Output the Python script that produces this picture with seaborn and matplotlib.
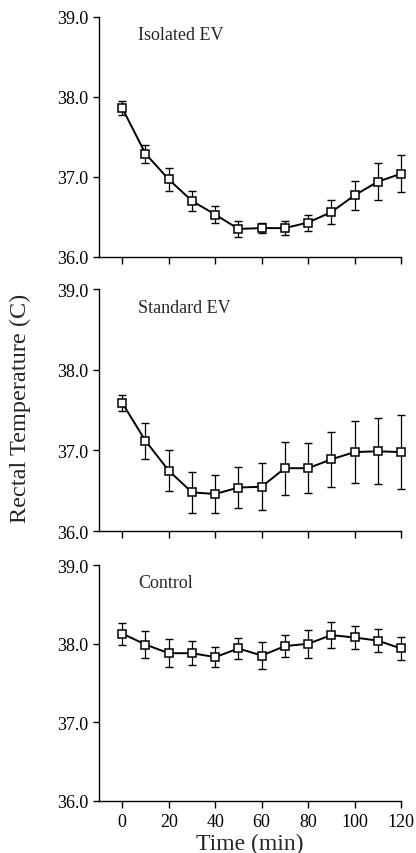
import matplotlib
matplotlib.use("Agg")
import matplotlib.pyplot as plt
import seaborn as sns
import pandas as pd
import numpy as np

time_min = [0, 10, 20, 30, 40, 50, 60, 70, 80, 90, 100, 110, 120]

isolated_mean = [37.86, 37.29, 36.97, 36.70, 36.53, 36.35, 36.36, 36.36, 36.43, 36.56, 36.77, 36.94, 37.04]
isolated_err = [0.09, 0.11, 0.14, 0.13, 0.11, 0.10, 0.06, 0.09, 0.10, 0.15, 0.18, 0.23, 0.23]

standard_mean = [37.59, 37.12, 36.75, 36.48, 36.46, 36.54, 36.55, 36.78, 36.78, 36.89, 36.98, 36.99, 36.98]
standard_err = [0.10, 0.22, 0.25, 0.25, 0.24, 0.25, 0.29, 0.33, 0.31, 0.34, 0.38, 0.41, 0.46]

control_mean = [38.13, 37.99, 37.88, 37.88, 37.83, 37.94, 37.85, 37.97, 38.00, 38.11, 38.08, 38.04, 37.94]
control_err = [0.14, 0.17, 0.18, 0.15, 0.13, 0.13, 0.17, 0.14, 0.18, 0.17, 0.15, 0.15, 0.15]

panel_labels = ["Isolated EV", "Standard EV", "Control"]
y_ticks = [36.0, 37.0, 38.0, 39.0]
x_ticks = [0, 20, 40, 60, 80, 100, 120]

sns.set_theme(style="ticks")
plt.rcParams['font.family'] = ['Liberation Serif', 'DejaVu Serif']

fig = plt.figure(figsize=(4.16, 8.54), dpi=100)
left, width = 0.238, 0.726
rects = [(0.698, 0.979), (0.377, 0.660), (0.061, 0.337)]

series = [(isolated_mean, isolated_err), (standard_mean, standard_err), (control_mean, control_err)]

for i, ((m, e), (b, t)) in enumerate(zip(series, rects)):
    ax = fig.add_axes([left, b, width, t - b])
    df = pd.DataFrame({"time": time_min, "temp": m, "err": e})
    eb = ax.errorbar(df["time"], df["temp"], yerr=df["err"], fmt="none",
                     ecolor="black", elinewidth=0.9, capsize=2.6, capthick=1.0, zorder=2)
    for art in list(eb.lines[1]) + list(eb.lines[2]):
        art.set_clip_on(False)
    sns.lineplot(data=df, x="time", y="temp", ax=ax, color="black", linewidth=1.4,
                 marker="s", markersize=5.3, markerfacecolor="white",
                 markeredgecolor="black", markeredgewidth=1.1, zorder=3, clip_on=False)
    ax.set_xlim(-10, 120)
    ax.set_ylim(36.0, 39.0)
    ax.set_yticks(y_ticks)
    ax.set_yticklabels([f"{v:.1f}" for v in y_ticks])
    ax.set_xticks(x_ticks)
    if i < 2:
        ax.set_xticklabels([])
    else:
        ax.set_xticklabels([str(v) for v in x_ticks])
    ax.set_xlabel("")
    ax.set_ylabel("")
    ax.text(0.13, 0.925, panel_labels[i], transform=ax.transAxes, fontsize=13,
            ha="left", va="center")
    sns.despine(ax=ax)
    for s in ["left", "bottom"]:
        ax.spines[s].set_linewidth(1.0)
        ax.spines[s].set_color("black")
    ax.tick_params(axis="y", direction="out", length=4, width=1.0,
                   colors="black", labelsize=13, pad=3.5)
    ax.tick_params(axis="x", direction="out", length=5, width=1.0,
                   colors="black", labelsize=13, pad=4)
    ax.set_facecolor("white")
    if i == 2:
        ax.set_xlabel("Time (min)", fontsize=17, labelpad=1.5)

fig.text(0.048, 0.522, "Rectal Temperature (C)", rotation=90, ha="center",
         va="center", fontsize=17.5)

fig.savefig("out.png", dpi=100, facecolor="white")
